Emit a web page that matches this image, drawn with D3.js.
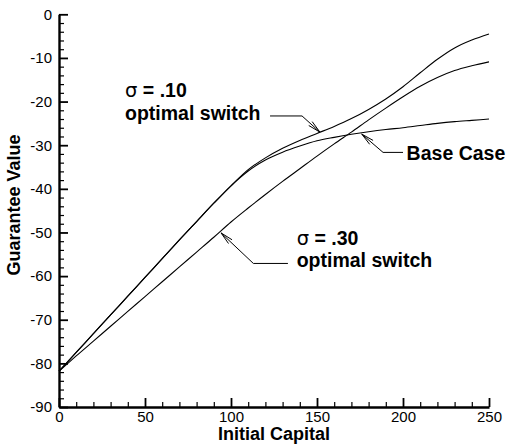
<!DOCTYPE html>
<html><head><meta charset="utf-8">
<script src="https://cdn.jsdelivr.net/npm/d3@7"></script>
<style>
html,body{margin:0;padding:0;background:#fff;}
svg{display:block;font-family:"Liberation Sans",Arial,Helvetica,sans-serif;}
</style></head>
<body><svg id="c" width="514" height="447"></svg>
<script>
const capital = [0,10,20,30,40,50,60,70,80,90,100,110,120,130,140,150,160,170,180,190,200,210,220,230,240,250];
const baseCase = [-81.8,-77.5,-73.2,-68.9,-64.6,-60.3,-56.0,-51.7,-47.5,-43.3,-39.3,-35.9,-33.4,-31.6,-30.2,-29.0,-28.2,-27.5,-26.9,-26.4,-26.0,-25.5,-25.0,-24.6,-24.3,-24.0];
const sigma10 = [-81.8,-77.5,-73.2,-68.9,-64.6,-60.3,-56.0,-51.7,-47.5,-43.3,-39.3,-35.6,-32.9,-30.7,-28.9,-27.3,-25.7,-23.9,-21.8,-19.4,-16.6,-13.4,-10.3,-7.7,-5.9,-4.5];
const sigma30 = [-81.8,-78.3,-74.9,-71.5,-68.1,-64.7,-61.3,-57.9,-54.5,-51.1,-47.6,-44.4,-41.3,-38.3,-35.4,-32.5,-29.7,-27.0,-24.2,-21.5,-18.9,-16.5,-14.5,-12.9,-11.8,-10.9];
const xTickLabels = [0,50,100,150,200,250];
const yTickLabels = [0,-10,-20,-30,-40,-50,-60,-70,-80,-90];
const xTitle = "Initial Capital";
const yTitle = "Guarantee Value";
// annotations (data units): label lines, leader horizontal end, elbow, arrow tip
const annotations = [
  {lines:[["σ"," = .10"],["","optimal switch"]], tx:38.4, ty:[-19.0,-24.2], end:[122.7,-23.3], elbow:[141.3,-23.3], tip:[151.7,-27.0]},
  {lines:[["","Base Case"]], tx:202.1, ty:[-33.4], end:[200.0,-31.65], elbow:[188.4,-31.65], tip:[176.0,-27.45]},
  {lines:[["σ"," = .30"],["","optimal switch"]], tx:138.2, ty:[-52.8,-58.0], end:[133.1,-57.1], elbow:[113.0,-57.1], tip:[94.2,-50.1]}
];

const svg = d3.select("#c");
const x = d3.scaleLinear().domain([0,250]).range([59,489]);
const y = d3.scaleLinear().domain([-90,0]).range([407,14.3]);
const H = 407, L = 59;
const fmt = d => String(d);

// minor ticks
const xMinor = d3.range(0,251,10).filter(v=>v%50!==0);
const yMinor = d3.range(-90,1,2).filter(v=>v%10!==0);
svg.append("g").attr("transform",`translate(0,${H})`)
  .call(d3.axisBottom(x).tickValues(xMinor).tickSizeInner(-5).tickSizeOuter(0).tickFormat(""))
  .call(g=>{g.select(".domain").remove(); g.selectAll("line").attr("stroke","#000").attr("stroke-width",1.2);});
svg.append("g").attr("transform",`translate(${L},0)`)
  .call(d3.axisLeft(y).tickValues(yMinor).tickSizeInner(-5).tickSizeOuter(0).tickFormat(""))
  .call(g=>{g.select(".domain").remove(); g.selectAll("line").attr("stroke","#000").attr("stroke-width",1.2);});

// major axes
const xa = svg.append("g").attr("transform",`translate(0,${H})`)
  .call(d3.axisBottom(x).tickValues(xTickLabels).tickSizeInner(-9).tickSizeOuter(0).tickPadding(4).tickFormat(fmt));
xa.select(".domain").attr("stroke","#000").attr("stroke-width",2.4);
xa.selectAll("line").attr("stroke","#000").attr("stroke-width",1.8);
xa.selectAll("text").attr("font-size",15).attr("fill","#000").attr("font-family","Liberation Sans, Arial, sans-serif");

const ya = svg.append("g").attr("transform",`translate(${L},0)`)
  .call(d3.axisLeft(y).tickValues(yTickLabels).tickSizeInner(-9).tickSizeOuter(0).tickPadding(7).tickFormat(fmt));
ya.select(".domain").attr("stroke","#000").attr("stroke-width",2.4);
ya.selectAll("line").attr("stroke","#000").attr("stroke-width",1.8);
ya.selectAll("text").attr("font-size",15).attr("fill","#000").attr("font-family","Liberation Sans, Arial, sans-serif");

// titles
svg.append("text").attr("x",(x(0)+x(250))/2).attr("y",440).attr("text-anchor","middle")
  .attr("font-size",18).attr("font-weight","bold").text(xTitle);
svg.append("text").attr("transform",`translate(20,${205}) rotate(-90)`).attr("text-anchor","middle")
  .attr("font-size",18).attr("font-weight","bold").text(yTitle);

// curves
const line = d3.line().x((d,i)=>x(capital[i])).y(d=>y(d)).curve(d3.curveMonotoneX);
[baseCase, sigma10, sigma30].forEach(s=>{
  svg.append("path").attr("d",line(s)).attr("fill","none").attr("stroke","#000").attr("stroke-width",1.1);
});

// annotations
annotations.forEach(a=>{
  const pts = [a.end,a.elbow,a.tip].map(p=>[x(p[0]),y(p[1])]);
  svg.append("path").attr("d",d3.line()(pts)).attr("fill","none").attr("stroke","#000").attr("stroke-width",1);
  const [ex,ey]=pts[1],[tx,ty]=pts[2];
  const ang=Math.atan2(ey-ty,ex-tx), len=13, spread=0.2;
  const b1=[tx+len*Math.cos(ang+spread),ty+len*Math.sin(ang+spread)];
  const b2=[tx+len*Math.cos(ang-spread),ty+len*Math.sin(ang-spread)];
  svg.append("path").attr("d",d3.line()([b1,[tx,ty],b2])).attr("fill","none").attr("stroke","#000").attr("stroke-width",1);
  a.lines.forEach((ln,i)=>{
    const t=svg.append("text").attr("x",x(a.tx)).attr("y",y(a.ty[i])).attr("font-size",19.5).attr("font-weight","bold").attr("fill","#000");
    if(ln[0]) t.append("tspan").attr("font-weight","normal").attr("font-family","DejaVu Sans, sans-serif").text(ln[0]);
    t.append("tspan").text(ln[1]);
  });
});
</script></body></html>
